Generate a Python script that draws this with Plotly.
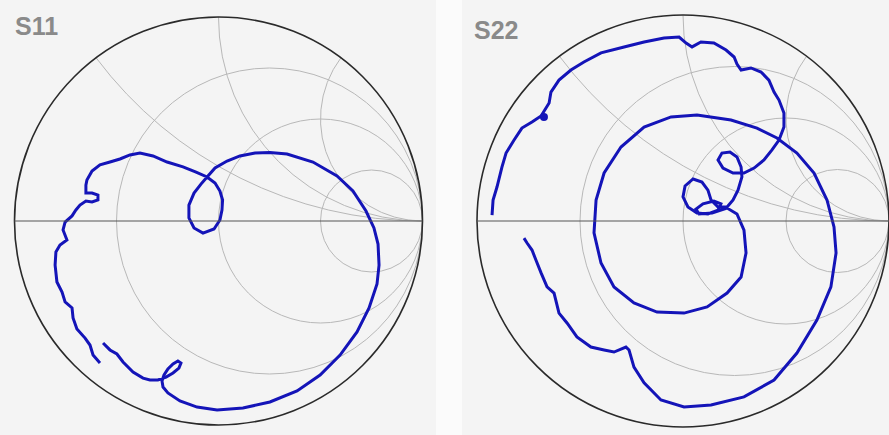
import numpy as np
import plotly.graph_objects as go

s11_re = [-0.581, -0.615, -0.630, -0.654, -0.694, -0.713, -0.718, -0.752, -0.767, -0.792,
          -0.801, -0.797, -0.777, -0.743, -0.762, -0.752, -0.718, -0.699, -0.679,
          -0.650, -0.620, -0.591, -0.591, -0.620, -0.650, -0.650,
          -0.645, -0.620, -0.581, -0.532, -0.483,
          -0.434, -0.385, -0.321, -0.252, -0.174, -0.110, -0.056, -0.017, 0.007, 0.020,
          0.017, 0.007, -0.022, -0.076, -0.120, -0.145, -0.145, -0.120, -0.086, -0.056,
          -0.017, 0.042, 0.105, 0.179, 0.252, 0.336, 0.463, 0.581, 0.659, 0.723,
          0.762, 0.782, 0.787, 0.777, 0.738, 0.679, 0.596, 0.498, 0.385, 0.252,
          0.120, -0.007, -0.105, -0.189,
          -0.248, -0.272, -0.277, -0.267, -0.248, -0.223, -0.199, -0.184, -0.194, -0.223,
          -0.257, -0.297, -0.336,
          -0.370, -0.419, -0.468, -0.498, -0.532, -0.566]
s11_im = [-0.696, -0.657, -0.608, -0.574, -0.529, -0.475, -0.426, -0.397, -0.348, -0.299,
          -0.216, -0.152, -0.118, -0.093, -0.044, -0.005, 0.025, 0.054, 0.078,
          0.098, 0.093, 0.103, 0.127, 0.137, 0.137, 0.176,
          0.201, 0.245, 0.275, 0.289, 0.304,
          0.324, 0.333, 0.319, 0.289, 0.265, 0.240, 0.216, 0.186, 0.147, 0.103,
          0.054, 0.005, -0.039, -0.059, -0.034, 0.015, 0.078, 0.137, 0.181, 0.216,
          0.260, 0.294, 0.319, 0.333, 0.336, 0.328, 0.289, 0.221, 0.147, 0.049,
          -0.034, -0.113, -0.216, -0.309, -0.426, -0.544, -0.657, -0.755, -0.833, -0.887,
          -0.917, -0.926, -0.912, -0.882,
          -0.843, -0.814, -0.784, -0.755, -0.725, -0.701, -0.686, -0.696, -0.721, -0.745,
          -0.765, -0.779, -0.779,
          -0.770, -0.740, -0.691, -0.652, -0.632, -0.598]

s22_re = [-0.927, -0.922, -0.903, -0.879, -0.859, -0.820, -0.782, -0.733, -0.689, -0.650,
          -0.641, -0.602, -0.544, -0.481, -0.398, -0.286, -0.189, -0.092, -0.019, 0.015,
          0.044, 0.087, 0.150, 0.209, 0.248, 0.262, 0.282, 0.330, 0.379, 0.417,
          0.442, 0.466, 0.490, 0.490, 0.466, 0.432, 0.393, 0.345, 0.296,
          0.243, 0.194, 0.170, 0.189, 0.228, 0.262, 0.282, 0.286, 0.267, 0.243, 0.214,
          0.170, 0.136, 0.121, 0.092, 0.049, 0.010, 0.000, 0.024, 0.068, 0.121,
          0.170, 0.184, 0.150, 0.097, 0.063, 0.078, 0.141, 0.214,
          0.262, 0.296, 0.306, 0.282, 0.214, 0.117, 0.005, -0.126, -0.238, -0.335,
          -0.398, -0.432, -0.422, -0.383, -0.301, -0.189, -0.058, 0.068, 0.233, 0.359,
          0.456, 0.553, 0.636, 0.699, 0.733, 0.743, 0.718, 0.650, 0.553, 0.442,
          0.296, 0.136, 0.005, -0.107, -0.189, -0.238, -0.262, -0.277, -0.335, -0.383,
          -0.447, -0.515, -0.563, -0.602, -0.626, -0.660, -0.689, -0.714, -0.733, -0.757,
          -0.772]
s22_im = [0.029, 0.102, 0.165, 0.262, 0.330, 0.393, 0.451, 0.481, 0.510, 0.573,
          0.626, 0.684, 0.733, 0.772, 0.816, 0.845, 0.869, 0.888, 0.893, 0.864,
          0.845, 0.869, 0.864, 0.830, 0.796, 0.762, 0.733, 0.743, 0.723, 0.684,
          0.626, 0.587, 0.524, 0.456, 0.393, 0.345, 0.296, 0.257, 0.233,
          0.233, 0.257, 0.296, 0.330, 0.335, 0.311, 0.262, 0.214, 0.150, 0.102, 0.068,
          0.068, 0.102, 0.150, 0.189, 0.204, 0.170, 0.117, 0.068, 0.039, 0.034,
          0.053, 0.083, 0.097, 0.083, 0.058, 0.034, 0.039, 0.063,
          0.034, -0.044, -0.155, -0.272, -0.350, -0.417, -0.447, -0.442, -0.398, -0.320,
          -0.204, -0.058, 0.102, 0.233, 0.359, 0.456, 0.505, 0.515, 0.490, 0.451,
          0.403, 0.330, 0.233, 0.102, -0.029, -0.155, -0.320, -0.481, -0.641, -0.772,
          -0.854, -0.893, -0.903, -0.869, -0.786, -0.709, -0.626, -0.612, -0.636, -0.626,
          -0.612, -0.563, -0.495, -0.447, -0.350, -0.320, -0.252, -0.189, -0.141, -0.107,
          -0.083]

s22_dot_re = [-0.675]
s22_dot_im = [0.505]

chart_labels = ["S11", "S22"]
resistance_ticks = [1 / 3, 1, 3]
reactance_ticks = [0.5, 1, 2]


def to_z(re, im):
    g = np.array(re) + 1j * np.array(im)
    z = (1 + g) / (1 - g)
    return z.real, z.imag


BG = "#f4f4f4"
LINE = "#1414b8"

fig = go.Figure()
r, x = to_z(s11_re, s11_im)
fig.add_trace(go.Scattersmith(real=r, imag=x, mode="lines", subplot="smith",
                              line=dict(color=LINE, width=3), showlegend=False))
r, x = to_z(s22_re, s22_im)
fig.add_trace(go.Scattersmith(real=r, imag=x, mode="lines", subplot="smith2",
                              line=dict(color=LINE, width=3), showlegend=False))
r, x = to_z(s22_dot_re, s22_dot_im)
fig.add_trace(go.Scattersmith(real=r, imag=x, mode="markers", subplot="smith2",
                              marker=dict(color=LINE, size=8), showlegend=False))


def smith_axes(dom_x, dom_y):
    return dict(
        domain=dict(x=dom_x, y=dom_y),
        bgcolor=BG,
        realaxis=dict(tickvals=resistance_ticks, showticklabels=False, ticks="",
                      gridcolor="#b8b8b8", gridwidth=1, linecolor="#555555", linewidth=1,
                      showline=True),
        imaginaryaxis=dict(tickvals=reactance_ticks, showticklabels=False, ticks="",
                           gridcolor="#b8b8b8", gridwidth=1, linecolor="#2a2a2a", linewidth=1.6,
                           showline=True),
    )


W, H = 889, 435
fig.update_layout(
    width=W, height=H,
    margin=dict(l=0, r=0, t=0, b=0),
    paper_bgcolor=BG,
    smith=smith_axes([14.5 / W, 422.5 / W], [(H - 427) / H, (H - 15) / H]),
    smith2=smith_axes([477 / W, 889 / W], [(H - 428) / H, (H - 14) / H]),
    shapes=[dict(type="rect", xref="paper", yref="paper", x0=436 / W, x1=462 / W, y0=0, y1=1,
                 fillcolor="#fbfbfb", line=dict(width=0), layer="below")],
    annotations=[
        dict(text="<b>" + chart_labels[0] + "</b>", x=13 / W, y=1 - 10 / H, xref="paper", yref="paper",
             xanchor="left", yanchor="top", showarrow=False,
             font=dict(family="Liberation Sans, Arial", size=25, color="#8a8a8a")),
        dict(text="<b>" + chart_labels[1] + "</b>", x=472 / W, y=1 - 14 / H, xref="paper", yref="paper",
             xanchor="left", yanchor="top", showarrow=False,
             font=dict(family="Liberation Sans, Arial", size=25, color="#8a8a8a")),
    ],
)

fig.write_html("out.html", config={"displayModeBar": False},
               post_script="document.body.style.margin='0';")
